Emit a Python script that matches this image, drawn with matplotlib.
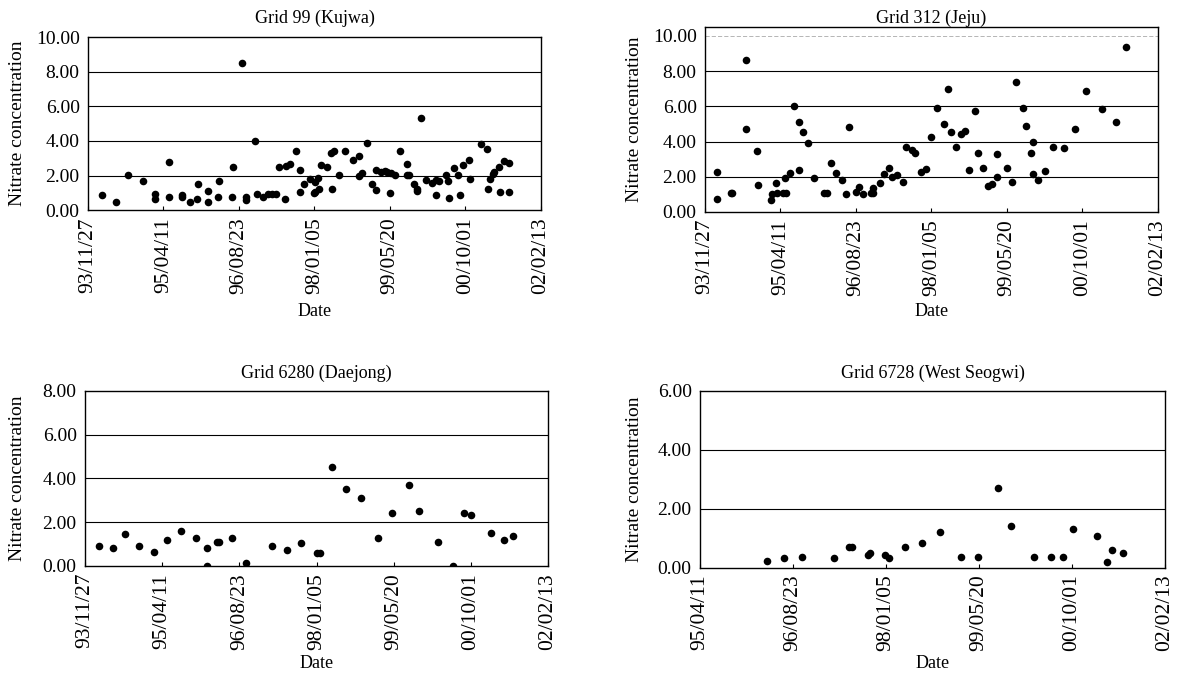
import numpy as np
import matplotlib
matplotlib.use("Agg")
import matplotlib.pyplot as plt
import matplotlib.dates as mdates

plt.rcParams['font.family'] = ['Liberation Serif', 'DejaVu Serif']

BASE = np.datetime64('1993-11-27')

# ---- data: days since 1993-11-27, nitrate concentration ----
kujwa_days = [91, 183, 267, 362, 446, 446, 534, 534, 622, 622, 675, 724, 730, 793, 793,
              859, 869, 951, 960, 1018, 1046, 1046, 1108, 1117, 1157, 1194, 1220, 1245,
              1268, 1307, 1309, 1338, 1375, 1406, 1406, 1432, 1470, 1503, 1521, 1503, 1530,
              1497, 1541, 1583, 1614, 1609, 1631, 1664, 1700, 1757, 1795, 1795, 1812, 1846,
              1883, 1907, 1907, 1940, 1967, 1982, 2006, 2035, 2000, 2066, 2110, 2110, 2128,
              2159, 2177, 2177, 2207, 2238, 2281, 2304, 2326, 2304, 2371, 2381, 2393, 2422,
              2452, 2464, 2485, 2523, 2527, 2601, 2642, 2664, 2646, 2680, 2689, 2724, 2755,
              2788, 2728, 2790]
kujwa_vals = [0.87, 0.48, 2.06, 1.68, 0.92, 0.64, 2.79, 0.77, 0.90, 0.78, 0.48, 0.64, 1.49, 1.10, 0.48,
              0.77, 1.68, 0.77, 2.47, 8.51, 0.77, 0.58, 4.00, 0.96, 0.77, 0.92, 0.96, 0.92,
              2.47, 0.65, 2.54, 2.66, 3.41, 2.31, 1.08, 1.50, 1.79, 1.66, 1.87, 1.08, 1.25,
              0.97, 2.64, 2.47, 1.25, 3.31, 3.41, 2.01, 3.41, 2.91, 3.16, 1.98, 2.18, 3.91,
              1.50, 1.16, 2.31, 2.20, 2.29, 2.20, 2.18, 2.04, 0.97, 3.43, 2.66, 2.02, 2.02,
              1.54, 1.25, 1.12, 5.32, 1.77, 1.56, 1.77, 1.68, 0.91, 2.04, 1.68, 0.73, 2.45,
              2.02, 0.87, 2.60, 2.91, 1.79, 3.82, 3.53, 1.83, 1.21, 2.12, 2.21, 2.50, 2.83,
              2.73, 1.06, 1.06]

jeju_days = [77, 82, 172, 178, 269, 269, 346, 349, 437, 446, 475, 472, 518, 536, 530, 563,
             592, 625, 625, 651, 680, 724, 786, 808, 834, 867, 905, 932, 954, 998, 1020,
             1048, 1097, 1110, 1115, 1159, 1187, 1219, 1240, 1270, 1309, 1331, 1369, 1391,
             1428, 1464, 1497, 1534, 1585, 1607, 1627, 1660, 1693, 1722, 1750, 1788, 1810,
             1839, 1876, 1898, 1936, 1932, 1998, 2035, 2060, 2108, 2126, 2170, 2159, 2170,
             2207, 2252, 2303, 2379, 2450, 2523, 2631, 2720, 2786]
jeju_vals = [0.74, 2.29, 1.06, 1.10, 8.62, 4.72, 3.48, 1.52, 0.68, 1.00, 1.06, 1.63, 1.06, 1.06,
             1.91, 2.20, 6.04, 5.10, 2.39, 4.56, 3.90, 1.91, 1.06, 1.06, 2.77, 2.20, 1.82, 1.00,
             4.81, 1.15, 1.44, 1.00, 1.06, 1.35, 1.10, 1.63, 2.14, 2.48, 2.00, 2.10, 1.72,
             3.71, 3.52, 3.37, 2.29, 2.43, 4.24, 5.89, 5.00, 6.99, 4.53, 3.68, 4.41, 4.60,
             2.39, 5.74, 3.37, 2.48, 1.49, 1.59, 2.01, 3.28, 2.48, 1.70, 7.40, 5.89, 4.89,
             3.99, 3.33, 2.16, 1.82, 2.35, 3.68, 3.62, 4.72, 6.89, 5.84, 5.13, 9.39]

daejong_days = [91, 184, 261, 352, 445, 534, 620, 719, 788, 788, 853, 866, 950, 1041, 1214,
                1307, 1398, 1501, 1523, 1603, 1690, 1787, 1901, 1992, 2102, 2167, 2289, 2383,
                2454, 2501, 2631, 2715, 2775]
daejong_vals = [0.92, 0.80, 1.44, 0.92, 0.64, 1.20, 1.62, 1.29, 0.82, 0.00, 1.09, 1.09, 1.29,
                0.12, 0.92, 0.73, 1.03, 0.58, 0.58, 4.51, 3.53, 3.10, 1.30, 2.44, 3.68, 2.50,
                1.09, 0.00, 2.42, 2.35, 1.51, 1.18, 1.38]

seogwi_days = [862, 953, 1050, 1219, 1300, 1315, 1401, 1414, 1495, 1516, 1602, 1692, 1790,
               1903, 1993, 2104, 2170, 2296, 2385, 2452, 2507, 2633, 2713, 2686, 2772]
seogwi_vals = [0.21, 0.32, 0.37, 0.32, 0.71, 0.71, 0.41, 0.48, 0.41, 0.33, 0.71, 0.82, 1.20,
               0.37, 0.37, 2.70, 1.42, 0.37, 0.37, 0.37, 1.31, 1.06, 0.60, 0.20, 0.48]

titles = ['Grid 99 (Kujwa)', 'Grid 312 (Jeju)', 'Grid 6280 (Daejong)', 'Grid 6728 (West Seogwi)']
tick_steps_days = [0, 500, 1000, 1500, 2000, 2500, 3000]

W, H = 1177, 677
fig = plt.figure(figsize=(W / 100, H / 100), dpi=100)
fig.patch.set_facecolor('white')

# layout in pixels: left, right, top, bottom
boxes = [(88, 541, 37, 210.3), (705, 1158, 27, 212), (85, 548, 390.7, 566), (700, 1165, 390.5, 567.5)]
ylims = [(0, 10), (0, 10.5), (0, 8), (0, 6)]
yticks = [np.arange(0, 10.01, 2), np.arange(0, 10.01, 2), np.arange(0, 8.01, 2), np.arange(0, 6.01, 2)]
xstart = [0, 0, 0, 500]
series = [(kujwa_days, kujwa_vals), (jeju_days, jeju_vals), (daejong_days, daejong_vals),
          (seogwi_days, seogwi_vals)]
title_y = [18, 18, 373, 373]
ylab_x = [18, 634, 18, 634]
date_y = [312, 312, 664, 664]

FS = 13
for i, (l, r, t, b) in enumerate(boxes):
    ax = fig.add_axes([l / W, 1 - b / H, (r - l) / W, (b - t) / H])
    d, v = series[i]
    x = BASE + np.array(d).astype('timedelta64[D]')
    ax.scatter(x, v, s=30, color='black', zorder=3, linewidths=0)
    ax.set_ylim(*ylims[i])
    ax.set_yticks(yticks[i])
    ax.yaxis.set_major_formatter(matplotlib.ticker.FormatStrFormatter('%.2f'))
    for yv in yticks[i][1:]:
        if yv < ylims[i][1] - 1e-9:
            if i == 1 and yv >= 10:
                ax.axhline(yv, color='#999999', lw=0.5, ls=(0, (6, 3)), zorder=1)
            else:
                ax.axhline(yv, color='black', lw=0.8, zorder=1)
    ticks = [BASE + np.timedelta64(k, 'D') for k in tick_steps_days if k >= xstart[i]]
    ax.set_xlim(BASE + np.timedelta64(xstart[i], 'D'), BASE + np.timedelta64(3000, 'D'))
    ax.set_xticks(ticks)
    ax.xaxis.set_major_formatter(mdates.DateFormatter('%y/%m/%d'))
    ax.tick_params(axis='x', direction='in', length=3, labelsize=15.5, rotation=90, pad=5)
    ax.tick_params(axis='y', length=0, labelsize=14, pad=6)
    for sp in ax.spines.values():
        sp.set_color('black')
        sp.set_linewidth(1.0)
    cx = (l + r) / 2 / W
    fig.text(cx, 1 - title_y[i] / H, titles[i], ha='center', va='center', fontsize=FS)
    fig.text(ylab_x[i] / W, 1 - (t + b) / 2 / H, 'Nitrate concentration', rotation=90,
             ha='center', va='center', fontsize=14)
    fig.text(cx, 1 - date_y[i] / H, 'Date', ha='center', va='center', fontsize=FS)

fig.savefig('out.png', dpi=100, facecolor='white')
